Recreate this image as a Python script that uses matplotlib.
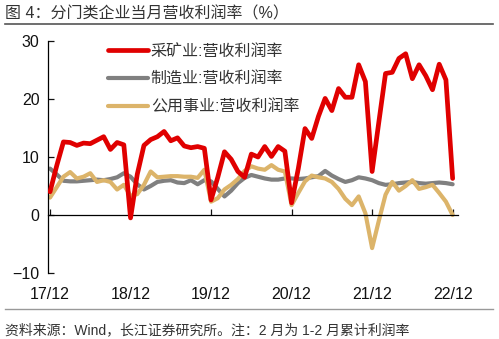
import numpy as np
import matplotlib
matplotlib.use('Agg')
from matplotlib import pyplot as plt
from matplotlib.lines import Line2D

plt.rcParams['font.family'] = ['Liberation Sans', 'Noto Sans CJK SC']

# 月度数据：2017/12 - 2022/12
mining = [4.0, 8.5, 12.6, 12.5, 12.0, 12.4, 12.3, 12.9, 13.5, 11.3,
          12.5, 12.1, -0.5, 7.0, 12.0, 13.0, 13.5, 14.4, 12.8, 13.3,
          11.9, 11.6, 11.8, 11.5, 2.6, 6.5, 10.9, 9.6, 7.5, 6.5,
          10.5, 10.0, 11.8, 10.1, 11.8, 11.0, 2.1, 8.0, 14.9, 13.2,
          17.0, 20.1, 18.0, 21.8, 20.3, 20.3, 25.9, 23.0, 7.5, 16.0,
          24.4, 24.6, 27.0, 27.8, 23.5, 25.9, 24.0, 21.6, 26.0, 23.3, 6.3]
manufacturing = [8.0, 7.0, 5.9, 5.8, 5.8, 5.9, 6.0, 6.1, 6.0, 6.2,
                 6.5, 7.2, 6.6, 5.3, 4.4, 5.0, 5.7, 5.9, 6.0, 5.6,
                 5.5, 6.0, 5.3, 6.0, 5.8, 4.5, 3.2, 4.2, 5.5, 6.4,
                 6.9, 6.6, 6.3, 6.1, 6.1, 6.3, 6.3, 6.2, 6.3, 6.5,
                 6.7, 7.6, 6.8, 6.2, 5.7, 6.0, 6.5, 6.3, 6.0, 5.5,
                 5.2, 5.3, 5.5, 5.6, 5.7, 5.5, 5.4, 5.5, 5.6, 5.5, 5.3]
utilities = [3.0, 4.8, 6.6, 7.4, 6.3, 6.6, 7.2, 5.7, 6.0, 5.7,
             4.4, 5.2, 3.3, 3.6, 5.2, 7.5, 6.5, 6.6, 6.7, 6.7,
             6.6, 6.6, 6.4, 7.8, 2.3, 2.9, 4.4, 5.2, 6.2, 7.6,
             8.4, 8.0, 7.8, 8.6, 7.8, 7.5, 1.7, 3.8, 5.8, 6.8,
             6.5, 6.3, 5.7, 4.5, 2.8, 1.7, 3.2, 0.3, -5.7, -1.0,
             3.5, 5.7, 4.2, 5.0, 6.0, 4.5, 4.8, 5.2, 3.8, 2.3, 0.0]
tick_labels = ['17/12', '18/12', '19/12', '20/12', '21/12', '22/12']

meseci = np.arange(len(mining))

fig = plt.figure(figsize=(4.99, 3.39), dpi=100)
ax = fig.add_axes([48/499, 66/339, 410/499, 232/339])

ax.plot(meseci, mining, color='#e00000', lw=3.4, solid_joinstyle='round',
        solid_capstyle='round', label='采矿业:营收利润率', zorder=3)
ax.plot(meseci, manufacturing, color='#808080', lw=3.0, solid_joinstyle='round',
        solid_capstyle='round', label='制造业:营收利润率', zorder=2)
ax.plot(meseci, utilities, color='#dcb46a', lw=3.0, solid_joinstyle='round',
        solid_capstyle='round', label='公用事业:营收利润率', zorder=2)

ax.set_ylim(-10, 30)
ax.set_yticks([-10, 0, 10, 20, 30])
ax.set_xlim(-0.3, 60.8)
ax.set_xticks(np.arange(0, 61, 12))
ax.set_xticklabels(tick_labels)

for s in ['top', 'right']:
    ax.spines[s].set_visible(False)
ax.spines['bottom'].set_position(('data', 0))
ax.spines['bottom'].set_linewidth(0.9)
ax.spines['left'].set_linewidth(0.9)
ax.tick_params(axis='y', direction='in', length=4, width=0.9,
               labelsize=11.5, pad=6, colors='#111111')
ax.tick_params(axis='x', direction='in', length=4, width=0.9,
               labelsize=11.5, pad=52, colors='#111111')

leg = ax.legend(loc='upper left', bbox_to_anchor=(0.13, 1.015), frameon=False,
                fontsize=11.5, handlelength=2.5, handletextpad=0.2,
                labelspacing=0.78, borderaxespad=0)
for t in leg.get_texts():
    t.set_color('#333333')

# naslov i izvor
fig.text(5/499, 1 - 14/339, '图 4：分门类企业当月营收利润率（%）', fontsize=11.5,
         color='#333333', va='center', ha='left')
fig.add_artist(Line2D([5/499, 493/499], [1 - 24/339, 1 - 24/339],
                      color='#555555', lw=1.2))
fig.add_artist(Line2D([5/499, 493/499], [1 - 309/339, 1 - 309/339],
                      color='#999999', lw=1.0))
fig.text(5/499, 1 - 330/339, '资料来源：Wind，长江证券研究所。注：2 月为 1-2 月累计利润率',
         fontsize=10, color='#333333', va='center', ha='left')

fig.savefig('out.png', dpi=100)
